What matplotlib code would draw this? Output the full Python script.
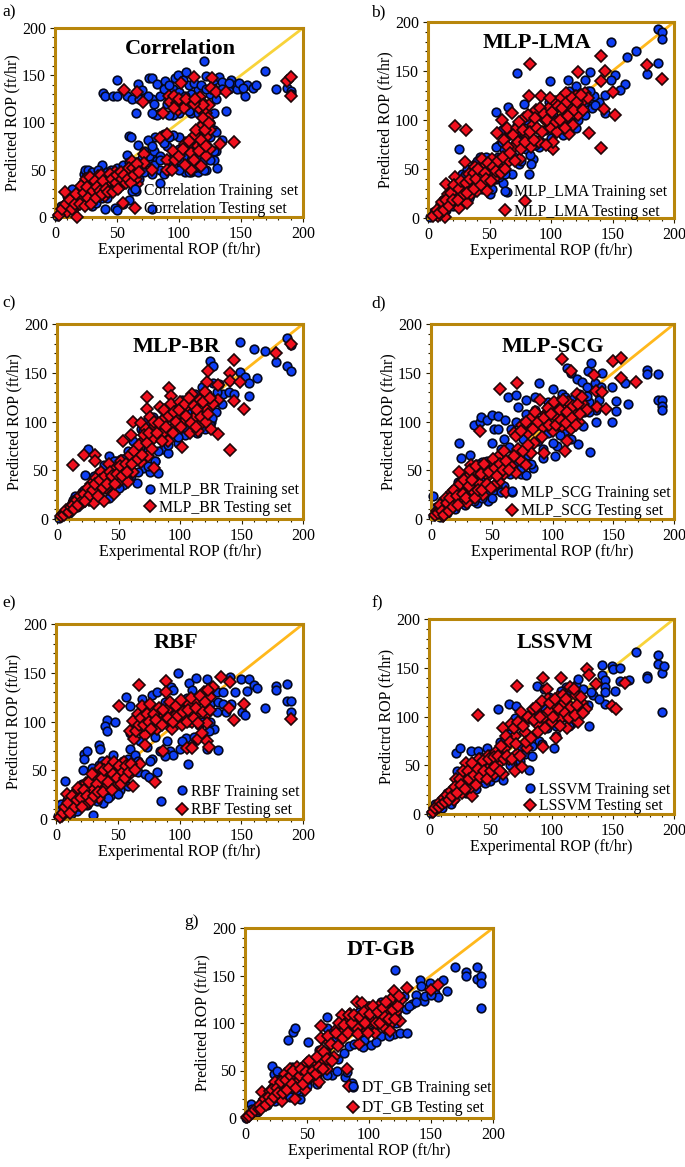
#!/usr/bin/env python3

# ROP cross plots, predicted vs experimental, seven models
import matplotlib
matplotlib.use('Agg')
import matplotlib.pyplot as plt
from matplotlib.ticker import MultipleLocator

plt.rcParams['font.family'] = ['Liberation Serif', 'DejaVu Serif']

W, H = 685, 1167

# (experimental, predicted)
a_train = [(2,1),(5,12),(8,5),(10,15),(12,20),(15,25),(15,10),(18,30),(20,22),(22,35),(23,45),(24,50),(25,15),(27,50),(30,12),(30,35),
    (33,42),(35,25),(38,55),(40,30),(42,48),(45,35),(48,50),(50,30),(52,45),(55,35),(58,52),(60,40),(62,55),(65,48),(68,40),(70,55),
    (72,48),(75,58),(78,45),(82,60),(85,50),(88,45),(92,50),(95,70),(100,72),(105,48),(110,48),(115,48),(118,52),(122,50),
    (40,8),(48,10),(50,7),(60,18),(65,28),(55,14),(78,8),(85,36),(131,52),(128,60),(130,70),(135,82),(125,85),(128,110),(122,100),
    (120,95),(115,90),(110,82),(105,80),(100,85),(95,87),(88,88),(86,86),(81,85),(75,81),(67,76),(60,86),(61,85),(58,66),(76,65),
    (72,70),(80,70),(85,65),(90,60),(95,55),(100,50),(105,65),(110,60),(115,55),(120,50),
    (39,131),(40,128),(47,128),(50,128),(50,145),(58,128),(62,125),(65,110),(67,141),(70,134),(72,126),(76,147),(78,147),(78,125),
    (80,109),(82,141),(80,120),(85,110),(89,144),(92,125),(95,135),(97,147),(99,150),(103,145),(106,153),(108,140),(110,130),(115,135),
    (120,165),(122,149),(125,130),(128,145),(132,148),(135,143),(140,135),(142,145),(145,140),(150,135),(153,128),(155,140),(160,137),
    (162,140),(169,154),(178,135),(187,136),(190,133),(190,130),(138,112),(100,110),(95,108),(110,110),(120,110),(105,120),(90,120),(85,128),(130,125),
    (88,135),(92,140),(100,132),(105,128),(112,142),(118,140),(122,135),(128,135),(135,135),(140,142),(147,135),(148,142),(152,137),(115,118),(100,120),
    (95,128),(108,112),(115,110),(92,108),(82,108),(78,110),(75,128),(68,125),(90,75),(95,62),(100,60),(105,72),(110,70),(115,65),(120,60),(125,60),
    (128,70),(108,48),(112,52),(80,55),(85,60),(78,75),(70,62),(65,58),(60,50),(88,78),(92,85),(128,92),(130,90),(125,100),
    (5,5),(8,14),(10,22),(14,30),(18,18),(22,28),(25,42),(28,20),(30,48),(33,15),(35,50),(38,20),(42,20),(45,50),(50,52),(55,55),(60,58),(62,28)]
a_test = [(56,134),(66,132),(71,122),(112,148),(127,147),(102,142),(126,136),(130,132),(138,132),(187,144),(190,148),(190,128),(144,79),(133,77),
    (87,110),(92,128),(93,122),(98,121),(99,113),(108,121),(117,127),(116,115),(120,120),(122,110),(123,105),(120,100),(118,95),(125,92),
    (122,85),(113,87),(115,75),(120,77),(125,72),(122,65),(118,54),(110,50),(105,77),(95,70),(90,60),(85,84),(90,88),(72,67),(72,57),
    (78,50),(90,50),(94,50),(66,35),(62,59),(60,44),(55,15),(18,0),(8,26),(12,12),(10,5),(15,20),(20,27),(25,40),(25,18),(30,35),(32,22),
    (35,43),(38,32),(40,22),(42,42),(45,30),(48,48),(52,40),(55,35),(58,50),(62,46),(65,40),(28,28),(36,22),(44,38),(50,34),(18,12),(22,20),(30,26),
    (3,2),(6,8),(9,14),(12,18),(14,8),(16,14),(17,24),(20,14),(21,33),(23,25),(24,12),(26,32),(27,20),(28,42),(29,14),(31,28),(32,38),(33,20),(34,32),
    (36,28),(37,44),(38,24),(39,38),(41,30),(43,26),(44,46),(46,40),(47,26),(49,36),(50,44),(51,30),(53,48),(54,40),(56,44),(57,36),(59,40),(60,52),
    (61,36),(63,52),(64,44),(66,56),(68,48),(97,60),(100,65),(103,72),(105,55),(108,80),(110,68),(112,60),(114,92),(116,70),(118,82),(119,105),(121,92),
    (122,75),(124,100),(124,118),(119,118),(112,120),(104,115),(96,115),(96,128),(100,125),(106,125),(113,125)]

b_train = [(2,1),(5,3),(8,8),(10,14),(14,10),(16,25),(18,18),(20,30),(22,22),(25,40),(25,12),(28,45),(30,28),(32,50),(35,25),(35,42),(38,55),
    (40,35),(42,62),(45,45),(47,30),(48,60),(50,25),(52,50),(55,40),(57,62),(58,75),(60,50),(60,90),(62,70),(65,60),(65,85),(68,45),(70,75),
    (72,95),(74,55),(75,85),(78,100),(80,70),(82,90),(85,60),(86,105),(88,80),(90,72),(92,110),(95,90),(98,118),(100,82),(102,105),(105,120),
    (108,95),(110,125),(112,105),(115,130),(118,110),(120,135),(122,100),(125,125),(128,105),(130,130),(133,112),(135,120),
    (187,193),(190,190),(190,183),(149,180),(169,170),(162,164),(187,158),(178,147),(152,146),(149,141),(160,137),(156,131),(132,149),(72,148),
    (99,140),(144,107),(144,126),(139,118),(135,125),(128,141),(114,141),(25,70),(64,27),(82,45),(84,55),(61,36),(55,108),(65,113),(78,116),
    (4,6),(7,3),(10,6),(12,18),(15,8),(20,12),(23,36),(27,20),(30,44),(33,20),(36,50),(40,58),(44,30),(47,62),(52,30),(55,72),(58,42),(60,78),(63,45),
    (66,88),(70,62),(73,80),(76,58),(80,100),(83,64),(87,74),(92,78),(96,108),(100,72),(104,88),(108,118),(112,92),(116,98),(120,92),(124,128),(128,118),
    (132,130),(136,115),(110,85)]
b_test = [(22,94),(31,90),(83,157),(141,165),(144,150),(122,149),(141,140),(150,129),(143,111),(152,105),(131,87),(141,71),(102,70),(102,78),(79,17),
    (178,156),(190,142),(14,1),(25,10),(32,15),(8,2),(6,4),(10,8),(12,13),(16,24),(15,35),(18,15),(22,42),(23,28),(26,20),(28,33),(30,57),(33,45),
    (35,24),(36,36),(38,52),(40,28),(42,43),(44,60),(45,36),(47,54),(48,28),(50,47),(52,60),(54,40),(56,87),(58,52),(60,100),(62,80),(64,92),(66,58),
    (68,107),(70,72),(72,92),(75,60),(78,102),(80,85),(82,125),(84,72),(85,95),(88,110),(90,78),(92,125),(95,100),(96,75),(98,112),(100,92),(103,118),
    (105,88),(108,122),(110,100),(112,128),(115,86),(116,112),(118,95),(120,125),(122,105),(125,118),(128,128),(130,122),
    (4,2),(7,8),(9,5),(11,16),(13,8),(15,18),(17,12),(19,26),(20,18),(21,34),(24,18),(25,30),(27,38),(29,24),(31,36),(32,26),(34,40),(37,30),(37,46),
    (39,40),(41,50),(43,34),(46,46),(47,40),(49,56),(51,38),(53,52),(55,48),(57,58),(59,46),(61,62),(63,50),(65,72),(67,66),(69,85),(71,58),(73,78),
    (74,98),(76,70),(77,90),(79,78),(81,105),(83,88),(86,80),(87,102),(89,92),(91,112),(93,88),(94,106),(97,100),(99,122),(101,108),(104,98),(106,114),
    (107,100),(109,112),(111,92),(113,118),(114,104),(117,122),(119,110),(121,118),(124,126),(126,110)]

c_train = [(2,1),(5,5),(8,4),(10,10),(12,16),(15,12),(15,24),(18,20),(20,28),(23,45),(24,22),(25,72),(26,32),(28,25),(30,40),(32,30),(34,48),(36,36),
    (38,55),(40,32),(42,65),(42,22),(44,45),(46,30),(48,60),(50,42),(52,62),(54,35),(56,50),(58,70),(60,44),(62,80),(65,37),(65,60),(68,92),(70,52),
    (72,100),(74,72),(76,48),(78,105),(80,60),(82,47),(84,95),(86,72),(88,108),(90,68),(92,88),(95,115),(98,78),(100,100),(102,122),(104,86),(106,110),
    (110,90),(112,128),(115,100),(118,135),(120,92),(122,118),(125,100),(127,140),(129,110),(132,138),(132,120),(135,128),(140,130),(144,128),
    (149,182),(187,186),(160,174),(169,172),(190,178),(178,161),(187,157),(190,152),(124,162),(127,157),(149,151),(153,146),(156,139),(163,145),(156,126),(80,60),
    (3,4),(7,8),(10,6),(13,20),(16,12),(20,16),(22,30),(28,18),(30,44),(34,24),(38,46),(42,30),(46,60),(50,32),(54,62),(58,40),(62,70),(66,48),(70,90),(74,54),
    (78,92),(82,70),(86,100),(90,76),(94,104),(98,84),(102,112),(106,92),(110,120),(114,88),(118,122),(122,128),(126,104),(130,130),(134,118),(124,96)]
c_test = [(13,55),(22,66),(31,66),(31,60),(73,125),(73,113),(91,134),(93,126),(122,141),(123,152),(131,137),(144,163),(141,150),(141,142),(149,141),
    (144,121),(152,113),(131,122),(131,87),(141,71),(102,74),(79,52),(178,170),(190,180),(54,80),(60,86),(62,100),(68,98),(5,5),(8,8),(12,14),(15,18),
    (18,22),(20,16),(24,28),(26,20),(28,36),(30,16),(32,42),(34,28),(36,48),(38,18),(40,32),(42,56),(44,40),(46,26),(48,52),(50,38),(52,60),(55,46),
    (58,38),(60,60),(62,48),(65,72),(68,58),(70,80),(72,92),(74,65),(76,105),(78,82),(80,95),(84,115),(86,88),(88,104),(90,80),(93,118),(96,95),(98,108),
    (100,120),(103,100),(106,116),(108,88),(110,128),(112,105),(115,90),(116,122),(118,98),(120,130),(122,112),(125,92),(127,118),
    (3,3),(6,4),(7,9),(10,7),(11,12),(13,14),(14,10),(16,19),(17,14),(19,24),(21,20),(22,26),(23,18),(25,32),(27,25),(29,30),(31,36),(33,24),(35,40),(37,32),
    (39,44),(41,36),(43,48),(45,44),(47,36),(49,46),(51,54),(53,44),(56,56),(57,48),(59,66),(61,56),(63,70),(66,62),(67,76),(69,66),(71,86),(73,78),(75,88),
    (77,72),(79,100),(81,88),(83,98),(85,80),(87,112),(89,94),(91,106),(94,88),(95,110),(97,100),(99,112),(101,94),(104,118),(105,106),(107,124),(109,98),
    (111,116),(113,94),(114,112),(117,105),(119,120),(121,100),(123,108),(124,124)]

d_train = [(2,24),(2,3),(5,8),(8,14),(10,4),(12,20),(15,10),(18,28),(20,16),(22,38),(25,20),(28,14),(30,44),(32,26),(35,54),(38,16),(40,40),(42,58),
    (45,28),(47,18),(50,48),(52,30),(54,60),(56,44),(60,34),(62,55),(65,46),(68,70),(70,88),(72,58),(74,46),(76,82),(78,45),(80,66),(84,52),(86,95),
    (88,80),(92,63),(94,108),(96,88),(100,118),(102,65),(104,75),(106,100),(108,118),(110,90),(112,108),(116,94),(118,124),(120,100),(122,128),(126,110),
    (130,120),(136,112),(138,122),
    (23,78),(25,63),(32,66),(35,96),(40,100),(41,105),(46,102),(50,107),(52,92),(55,92),(55,106),(50,78),(58,72),(61,102),(63,125),(70,127),(72,115),(78,122),
    (89,139),(86,125),(100,133),(108,128),(112,155),(115,150),(120,144),(124,141),(129,152),(132,160),(128,135),(135,140),(141,150),(140,135),(149,135),
    (152,121),(152,111),(149,99),(160,140),(162,118),(178,153),(178,149),(187,149),(187,122),(190,122),(190,116),(190,112),(131,69),(121,77),(67,28),
    (4,12),(7,2),(9,18),(13,6),(16,26),(20,10),(24,38),(27,18),(31,50),(35,18),(38,56),(42,22),(46,60),(50,22),(54,34),(58,28),(60,82),(64,74),(66,92),(70,100),
    (74,52),(78,108),(82,56),(86,112),(92,72),(96,120),(100,78),(106,86),(110,125),(115,82),(120,115),(125,95),(130,110),(136,100),(128,126)]
d_test = [(57,133),(71,140),(40,90),(108,164),(115,152),(150,162),(156,165),(156,145),(169,141),(134,148),(136,131),(141,130),(137,115),(144,113),(112,80),
    (110,70),(93,68),(82,68),(56,38),(62,28),(5,8),(8,12),(10,3),(12,22),(14,12),(17,28),(20,18),(23,48),(25,30),(28,20),(30,42),(30,16),(33,55),(35,28),
    (38,48),(40,36),(43,25),(45,52),(47,44),(50,58),(52,34),(55,64),(60,46),(60,70),(66,54),(68,88),(70,47),(72,72),(74,60),(75,96),(78,55),(80,88),(82,104),
    (85,78),(90,122),(92,94),(95,108),(98,116),(100,90),(102,106),(105,120),(108,95),(110,112),(113,120),(115,92),(118,108),(120,128),(122,100),(125,118),(128,112),
    (3,4),(6,6),(7,14),(9,8),(11,4),(13,16),(15,8),(16,22),(18,12),(19,30),(21,24),(22,14),(24,36),(26,26),(27,40),(29,22),(31,34),(32,50),(34,40),(36,22),(37,54),
    (39,30),(41,46),(42,30),(44,56),(46,36),(48,48),(49,32),(51,62),(53,52),(54,44),(57,56),(59,50),(62,60),(64,50),(68,65),(70,85),(74,90),(76,70),(78,100),(80,76),
    (84,92),(86,110),(88,100),(91,84),(93,104),(96,114),(97,96),(99,108),(101,120),(103,96),(106,112),(107,102),(109,122),(111,98),(112,110),(116,104),(117,116),
    (119,96),(121,118),(123,108),(124,125)]

e_train = [(2,3),(4,15),(7,39),(8,8),(10,14),(12,5),(15,24),(18,12),(20,34),(22,50),(25,20),(28,42),(30,4),(32,28),(35,55),(38,16),(40,36),(42,60),(44,24),
    (46,66),(48,40),(52,30),(55,52),(58,62),(60,72),(62,92),(64,66),(66,48),(70,110),(72,46),(74,74),(75,43),(78,62),(80,100),(82,48),(84,70),(88,120),
    (90,80),(92,70),(95,66),(96,108),(100,72),(103,122),(105,83),(108,100),(110,75),(112,116),(116,96),(120,128),(122,72),(125,118),(128,92),
    (85,18),(107,56),(131,71),(23,67),(23,62),(25,70),(35,76),(36,72),(41,102),(40,95),(41,90),(48,99),(57,125),(60,116),(70,123),(78,127),(82,130),(93,135),
    (99,150),(95,132),(108,140),(113,145),(122,144),(125,135),(110,132),(130,130),(135,130),(141,146),(145,130),(150,144),(156,144),(160,137),(163,134),
    (155,131),(169,114),(178,136),(178,132),(187,138),(187,121),(190,121),(190,110),(151,110),(153,107),(138,110),(131,120),(142,118),
    (3,8),(6,4),(9,20),(13,14),(17,8),(21,36),(25,14),(29,52),(33,18),(37,60),(42,22),(46,52),(50,26),(54,60),(58,34),(60,88),(64,100),(66,60),(68,80),(72,96),
    (76,60),(80,84),(84,112),(88,65),(92,100),(98,118),(102,80),(106,124),(112,84),(118,100),(124,90),(130,110),(125,100),(135,118)]
e_test = [(51,116),(67,137),(89,142),(89,130),(134,146),(141,141),(152,118),(144,102),(190,103),(80,38),(62,34),(87,70),(106,73),(110,73),(115,82),(122,80),
    (124,74),(118,88),(127,135),(5,3),(8,10),(9,26),(12,8),(14,18),(16,28),(19,14),(22,24),(24,37),(26,16),(30,30),(32,44),(35,22),(36,52),(40,32),(41,58),
    (44,42),(48,54),(50,36),(52,48),(55,58),(58,44),(60,90),(62,101),(63,82),(66,108),(68,56),(70,116),(72,86),(72,76),(76,118),(78,98),(82,92),(85,110),(88,102),
    (90,112),(94,92),(96,106),(100,114),(102,96),(105,105),(108,118),(110,100),(114,120),(116,110),(120,130),(122,108),(122,98),(125,125),(140,114),
    (3,2),(6,6),(7,12),(10,16),(11,6),(13,24),(15,12),(17,20),(18,32),(20,22),(21,12),(23,30),(25,24),(27,38),(28,18),(29,46),(31,24),(33,36),(34,28),(37,42),(38,28),
    (39,50),(42,38),(43,52),(45,30),(46,46),(47,58),(49,42),(51,54),(53,36),(54,48),(56,42),(57,54),(59,48),(61,56),(64,50),(65,90),(67,96),(69,104),(71,96),(74,108),
    (75,100),(77,92),(79,108),(81,102),(83,114),(86,96),(87,112),(91,104),(92,120),(95,100),(97,116),(99,106),(101,122),(103,110),(106,100),(107,112),(109,124),
    (112,104),(113,114),(115,98),(117,126),(119,110),(121,120),(123,132),(125,112)]

f_train = [(2,1),(5,10),(8,6),(10,12),(14,16),(18,22),(20,15),(23,44),(25,30),(28,24),(30,38),(33,26),(35,45),(38,32),(40,50),(44,36),(46,56),(50,34),(52,62),
    (55,48),(58,74),(60,35),(62,60),(65,82),(68,50),(70,90),(74,70),(76,98),(78,62),(82,45),(84,59),(86,102),(90,75),(94,110),(96,88),(100,118),(102,68),
    (104,90),(108,118),(110,100),(114,125),(116,92),(120,132),(123,105),(126,128),(130,112),(134,122),
    (22,63),(25,68),(34,65),(40,65),(47,68),(56,108),(65,113),(71,111),(88,131),(94,128),(131,90),(141,153),(149,152),(150,149),(156,150),(141,143),(144,137),
    (144,130),(144,125),(144,113),(152,126),(139,118),(156,136),(163,137),(169,166),(178,142),(178,140),(187,163),(187,154),(190,145),(192,152),(190,105),(122,138),(112,130),
    (3,4),(7,3),(11,6),(15,22),(18,10),(22,30),(26,36),(30,22),(34,48),(38,26),(42,58),(46,32),(50,62),(54,38),(58,66),(62,78),(66,50),(70,98),(74,54),(78,100),
    (84,70),(88,106),(92,72),(98,120),(104,80),(108,126),(114,90),(120,95),(126,108),(132,125)]
f_test = [(40,102),(72,131),(93,139),(96,128),(108,139),(129,149),(131,143),(136,133),(160,134),(149,111),(153,108),(35,18),(70,44),(76,48),(93,69),(104,78),(60,41),
    (6,5),(10,9),(14,15),(17,20),(20,14),(22,36),(24,28),(27,22),(30,52),(31,36),(34,28),(36,44),(39,34),(41,56),(43,46),(46,38),(48,60),(50,48),(52,40),(55,64),
    (57,52),(60,88),(62,68),(65,56),(67,92),(70,80),(72,62),(75,105),(78,84),(80,68),(82,98),(85,108),(88,92),(90,112),(94,100),(97,118),(100,94),(102,108),(105,120),
    (108,98),(110,114),(113,88),(115,130),(117,104),(120,122),(122,94),(125,114),(128,108),
    (3,2),(5,6),(8,7),(9,12),(11,10),(12,16),(13,12),(15,20),(16,14),(18,24),(19,18),(21,28),(23,22),(25,36),(26,30),(28,44),(29,26),(32,44),(33,36),(35,52),(37,40),
    (38,30),(40,46),(42,38),(44,54),(45,44),(47,36),(49,56),(51,44),(53,58),(54,48),(56,60),(58,44),(59,70),(61,56),(63,80),(64,60),(66,74),(68,56),(69,88),(71,72),
    (73,94),(74,60),(77,90),(79,74),(81,100),(83,78),(86,96),(87,110),(89,84),(91,100),(92,116),(95,88),(98,106),(99,114),(101,100),(103,118),(106,108),(107,90),
    (109,122),(111,104),(112,118),(114,98),(116,110),(118,128),(119,102),(121,112),(124,120),(126,104)]

g_train = [(1,0),(5,15),(8,6),(12,12),(16,18),(20,24),(22,55),(23,46),(26,50),(26,28),(30,38),(32,22),(36,48),(40,30),(44,20),(44,28),(48,48),(50,36),(55,52),
    (58,42),(60,72),(62,50),(65,70),(66,95),(66,106),(70,45),(72,84),(75,62),(78,90),(81,43),(82,48),(84,76),(86,37),(87,33),(88,92),(92,100),(95,75),(98,104),(102,77),
    (104,92),(108,110),(110,86),(114,120),(116,96),(120,88),(120,128),(122,110),(125,90),(126,126),(130,115),(131,89),(135,120),(138,130),(141,145),(142,139),(144,123),
    (149,142),(153,132),(156,127),(160,145),(163,134),(35,82),(39,91),(40,95),(51,80),(121,156),(169,159),(178,154),(178,150),(187,159),(187,146),(190,150),(190,142),(190,116),
    (3,4),(6,10),(10,6),(14,18),(18,14),(22,32),(24,18),(28,40),(32,30),(36,22),(38,54),(42,30),(46,54),(50,34),(54,58),(58,36),(62,84),(66,45),(70,90),(74,50),
    (80,68),(84,98),(88,78),(92,112),(96,82),(100,118),(106,80),(110,122),(116,86),(122,100),(128,128),(132,118),(138,122),(145,128),(150,130)]
g_test = [(2,1),(5,4),(10,9),(14,27),(15,16),(18,20),(20,28),(24,38),(25,24),(28,34),(30,18),(32,46),(35,34),(36,52),(40,20),(42,54),(43,38),(46,46),(48,30),(50,58),
    (54,44),(56,54),(60,38),(61,97),(62,72),(62,60),(66,52),(68,80),(72,64),(74,94),(78,108),(78,90),(82,52),(82,100),(84,34),(85,110),(90,122),(90,95),(92,78),(94,121),
    (95,108),(98,92),(100,116),(102,102),(105,90),(108,118),(110,108),(112,96),(115,114),(118,125),(118,100),(120,134),(122,112),(125,102),(126,124),(131,137),(150,135),(156,140),
    (3,2),(6,5),(8,8),(11,10),(12,14),(13,10),(16,20),(17,14),(19,22),(21,18),(22,30),(23,22),(26,32),(27,26),(29,38),(31,26),(33,40),(34,30),(37,44),(38,36),(39,50),
    (41,32),(44,44),(45,52),(47,36),(49,48),(51,42),(52,60),(55,50),(57,46),(58,64),(60,54),(61,84),(63,52),(64,70),(66,62),(67,86),(69,78),(70,60),(73,90),(75,76),
    (76,100),(79,84),(80,98),(83,90),(84,108),(86,100),(88,108),(91,88),(93,106),(96,112),(97,100),(99,90),(101,110),(103,118),(106,100),(107,112),(109,100),(111,116),
    (113,106),(114,122),(116,104),(117,92),(119,114),(121,104),(123,118),(124,128)]

train_sets = [a_train, b_train, c_train, d_train, e_train, f_train, g_train]
test_sets = [a_test, b_test, c_test, d_test, e_test, f_test, g_test]
titles = ['Correlation', 'MLP-LMA', 'MLP-BR', 'MLP-SCG', 'RBF', 'LSSVM', 'DT-GB']
train_labels = ['Correlation Training  set', 'MLP_LMA Training set', 'MLP_BR Training set', 'MLP_SCG Training set',
                'RBF Training set', 'LSSVM Training set', 'DT_GB Training set']
test_labels = ['Correlation Testing set', 'MLP_LMA Testing set', 'MLP_BR Testing set', 'MLP_SCG Testing set',
               'RBF Testing set', 'LSSVM Testing set', 'DT_GB Testing set']
ylabels = ['Predicted ROP (ft/hr)'] * 4 + ['Predictrd ROP (ft/hr)'] * 2 + ['Predicted ROP (ft/hr)']
letters = ['a)', 'b)', 'c)', 'd)', 'e)', 'f)', 'g)']

# layout in pixels of the reference
boxes = [(55, 303, 28, 217), (428, 674, 22, 218), (57, 303, 324, 519), (431, 674, 324, 519),
         (56, 303, 624, 819), (429, 674, 619, 814), (245, 493, 928, 1118)]
title_pos = [(180, 49), (537, 43), (177, 347), (553, 347), (176, 643), (555, 643), (381, 950)]
letter_pos = [(2, 12), (371, 12), (2, 303), (371, 303), (2, 603), (372, 603), (184, 922)]
# left edge of legend handle, middle of the two rows, row step
legend_pos = [(127, 200, 17.5), (497, 202, 19), (142, 499, 17), (504, 502, 18), (174, 801, 18), (522, 798, 16), (345, 1098, 20)]
line_colors = ['#F8D33A', '#FFB81C', '#FFB81C', '#FFB81C', '#FFB81C', '#F8D33A', '#FFB81C']

fig = plt.figure(figsize=(W / 100, H / 100), dpi=100)

for i in range(7):
    l, r, t, b = boxes[i]
    ax = fig.add_axes([l / W, 1 - b / H, (r - l) / W, (b - t) / H])
    ax.set_xlim(0, 200)
    ax.set_ylim(0, 200)
    ax.plot([0, 200], [0, 200], color=line_colors[i], lw=2, zorder=1)

    x, y = zip(*train_sets[i])
    ax.plot(x, y, 'o', ms=6.2, mfc='#0F3FF5', mec='#04081E', mew=1.2, label=train_labels[i], zorder=2, clip_on=False)
    x, y = zip(*test_sets[i])
    ax.plot(x, y, 'D', ms=5.8, mfc='#F0101E', mec='#200508', mew=1.2, label=test_labels[i], zorder=3, clip_on=False)

    for s in ax.spines.values():
        s.set_color('#B8860B')
        s.set_linewidth(2.2)
    ax.xaxis.set_major_locator(MultipleLocator(50))
    ax.yaxis.set_major_locator(MultipleLocator(50))
    ax.xaxis.set_minor_locator(MultipleLocator(10))
    ax.yaxis.set_minor_locator(MultipleLocator(10))
    ax.tick_params(which='major', length=3.5, width=0.8, color='#2a2000', labelsize=11.5, pad=3)
    ax.tick_params(which='minor', length=2, width=0.8, color='#2a2000')
    ax.set_xlabel('Experimental ROP (ft/hr)', fontsize=11.5, labelpad=0)
    ax.set_ylabel(ylabels[i], fontsize=11.5, labelpad=1)

    lx, ly, step = legend_pos[i]
    leg = ax.legend(loc='center left', bbox_to_anchor=(lx / W, 1 - ly / H), bbox_transform=fig.transFigure,
                    frameon=False, fontsize=11.3, numpoints=1, handlelength=1.0, handletextpad=0.1,
                    borderpad=0, borderaxespad=0, labelspacing=step / 16 - 0.95)
    leg.set_zorder(5)

    tx, ty = title_pos[i]
    fig.text(tx / W, 1 - ty / H, titles[i], fontsize=16, fontweight='bold', ha='center', va='center')
    lx, ly = letter_pos[i]
    fig.text(lx / W, 1 - ly / H, letters[i], fontsize=12.5, ha='left', va='center')

plt.savefig('out.png', dpi=100)
